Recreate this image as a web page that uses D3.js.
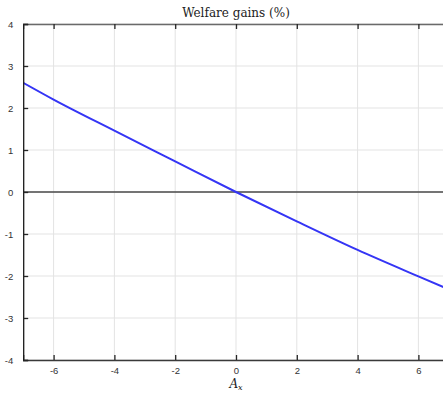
<!DOCTYPE html>
<html>
<head>
<meta charset="utf-8">
<script src="https://cdn.jsdelivr.net/npm/d3@7"></script>
<style>
  body { margin: 0; background: #fff; }
  svg { display: block; }
</style>
</head>
<body>
<svg id="chart" width="443" height="393"></svg>
<script>
// values
var xVals = [-7, -6, -4, -2, 0, 2, 4, 6, 7];
var gains = [2.6, 2.2, 1.46, 0.73, 0, -0.70, -1.38, -2.01, -2.32];
var xTicks = [-6, -4, -2, 0, 2, 4, 6];
var yTicks = [-4, -3, -2, -1, 0, 1, 2, 3, 4];

var svg = d3.select("#chart");
var mLeft = 23.2, mRight = 448.8, mTop = 24, mBottom = 360;

var x = d3.scaleLinear().domain([-7, 7]).range([mLeft, mRight]);
var y = d3.scaleLinear().domain([-4, 4]).range([mBottom, mTop]);

svg.append("defs").append("clipPath").attr("id", "clip")
  .append("rect").attr("x", mLeft).attr("y", mTop)
  .attr("width", mRight - mLeft).attr("height", mBottom - mTop);

var g = svg.append("g");

// grid
g.selectAll("line.vgrid").data(xTicks).enter().append("line")
  .attr("class", "vgrid")
  .attr("x1", d => x(d)).attr("x2", d => x(d))
  .attr("y1", mTop).attr("y2", mBottom)
  .style("stroke", "#e3e3e3").style("stroke-width", 1);
g.selectAll("line.hgrid").data(yTicks).enter().append("line")
  .attr("class", "hgrid")
  .attr("x1", mLeft).attr("x2", mRight)
  .attr("y1", d => y(d)).attr("y2", d => y(d))
  .style("stroke", "#e3e3e3").style("stroke-width", 1);

// zero line
g.append("line")
  .attr("x1", mLeft).attr("x2", mRight)
  .attr("y1", y(0)).attr("y2", y(0))
  .style("stroke", "#4a4a4a").style("stroke-width", 1.6);

// data line
var line = d3.line().x((d, i) => x(xVals[i])).y(d => y(d)).curve(d3.curveMonotoneX);
g.append("path")
  .datum(gains)
  .attr("clip-path", "url(#clip)")
  .attr("d", line)
  .style("fill", "none")
  .style("stroke", "#3535f5")
  .style("stroke-width", 2);

// axes
var fmt = d => String(d);
var xBottom = d3.axisBottom(x).tickValues(xTicks).tickSize(-5).tickPadding(7).tickFormat(fmt);
var xTop = d3.axisTop(x).tickValues(xTicks).tickSize(-5).tickFormat("");
var yLeft = d3.axisLeft(y).tickValues(yTicks).tickSize(-5).tickPadding(10).tickFormat(fmt);

function styleAxis(sel, col) {
  sel.select(".domain").style("stroke", col).style("stroke-width", 1.3);
  sel.selectAll(".tick line").style("stroke", "#262626").style("stroke-width", 1.3);
}

svg.append("g").attr("transform", "translate(0," + mBottom + ")").call(xBottom).call(s => styleAxis(s, "#3a3a3a"));
svg.append("g").attr("transform", "translate(0," + mTop + ")").call(xTop).call(s => styleAxis(s, "#6a6a6a"));
svg.append("g").attr("transform", "translate(" + mLeft + ",0)").call(yLeft).call(s => styleAxis(s, "#1a1a1a"));

svg.selectAll(".tick text").style("font-family", "'Liberation Sans', Arial, sans-serif").style("font-size", "9.5px").style("fill", "#333");

// title
svg.append("text")
  .attr("x", 236).attr("y", 17)
  .attr("text-anchor", "middle")
  .style("font-family", "'DejaVu Serif', 'Liberation Serif', serif")
  .style("font-size", "12px")
  .style("fill", "#222")
  .text("Welfare gains (%)");

// x label
var xl = svg.append("text")
  .attr("x", 236).attr("y", 388)
  .attr("text-anchor", "middle")
  .style("font-family", "'DejaVu Serif', 'Liberation Serif', serif")
  .style("font-style", "italic")
  .style("font-size", "12px")
  .style("fill", "#222");
xl.append("tspan").text("A");
xl.append("tspan").attr("dy", 2).style("font-size", "8px").text("x");
</script>
</body>
</html>
